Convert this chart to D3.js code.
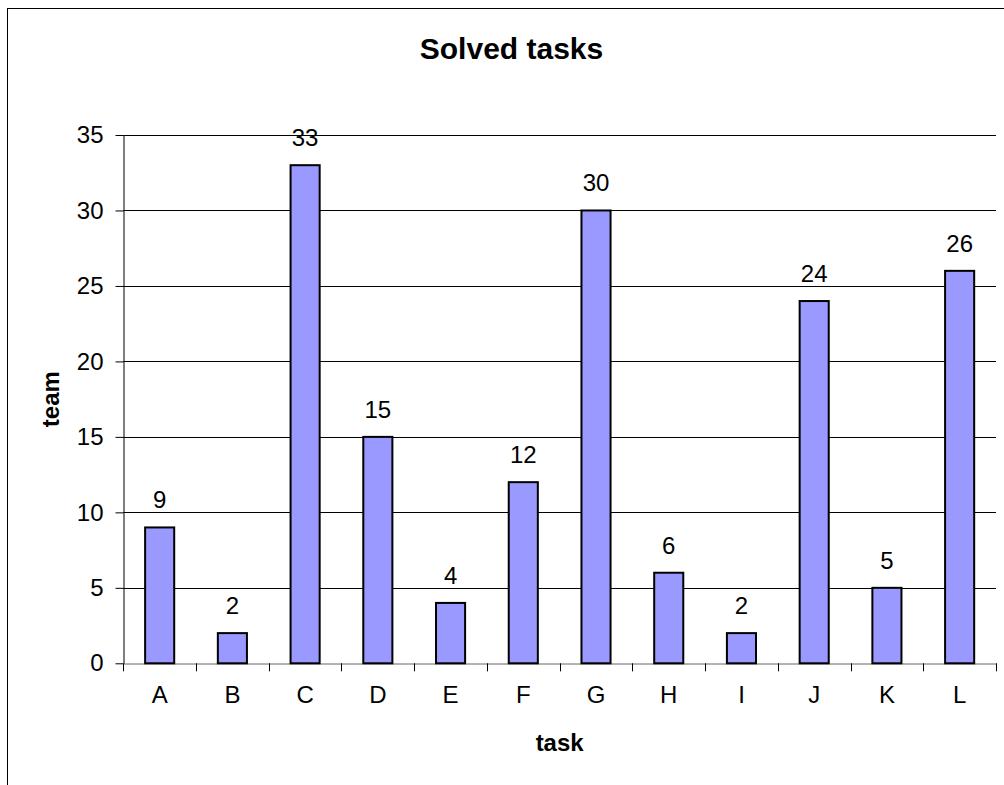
<!DOCTYPE html>
<html>
<head>
<meta charset="utf-8">
<script src="https://cdn.jsdelivr.net/npm/d3@7"></script>
<style>
    body { margin: 0; background: #fff; }
    svg { display: block; font-family: Arial, "Liberation Sans", sans-serif; }
</style>
</head>
<body>
<div id="chart"></div>
<script>
// Chart data
const tasks = ["A", "B", "C", "D", "E", "F", "G", "H", "I", "J", "K", "L"];
const solved = [9, 2, 33, 15, 4, 12, 30, 6, 2, 24, 5, 26];
const yTicks = [0, 5, 10, 15, 20, 25, 30, 35];

const width = 1004;
const height = 785;
const plot = {left: 123.3, right: 996, top: 135, bottom: 663.3};

const svg = d3.select("#chart").append("svg")
    .attr("width", width)
    .attr("height", height);

// Outer frame (runs off the right and bottom edge)
svg.append("rect")
    .attr("x", 7.5)
    .attr("y", 8.5)
    .attr("width", 1100)
    .attr("height", 900)
    .attr("fill", "none")
    .attr("stroke", "#000")
    .attr("stroke-width", 1);

// Scales
const x = d3.scaleBand()
    .domain(tasks)
    .range([plot.left, plot.right])
    .paddingInner(0)
    .paddingOuter(0);

const y = d3.scaleLinear()
    .domain([0, 35])
    .range([plot.bottom, plot.top]);

const barW = x.bandwidth() / 2.5;

// Gridlines
svg.append("g")
    .selectAll("line")
    .data(yTicks.filter(d => d > 0))
    .join("line")
    .attr("x1", plot.left)
    .attr("x2", plot.right)
    .attr("y1", d => Math.round(y(d)) + 0.5)
    .attr("y2", d => Math.round(y(d)) + 0.5)
    .attr("stroke", "#000")
    .attr("stroke-width", 1);

// Y axis
const yAxis = svg.append("g")
    .attr("transform", `translate(${Math.round(plot.left) + 0.5},0)`)
    .call(d3.axisLeft(y).tickValues(yTicks).tickSize(8).tickPadding(12).tickSizeOuter(0));
yAxis.select(".domain").attr("stroke", "#000");
yAxis.selectAll(".tick line").attr("stroke", "#000");
yAxis.selectAll(".tick text")
    .attr("font-size", 24)
    .attr("font-family", "Arial, 'Liberation Sans', sans-serif")
    .attr("fill", "#000");

// X axis
const xAxis = svg.append("g")
    .attr("transform", `translate(0,${Math.round(plot.bottom) + 0.5})`)
    .call(d3.axisBottom(x).tickSize(0).tickPadding(22));
xAxis.select(".domain").attr("stroke", "#666");
xAxis.selectAll(".tick text")
    .attr("font-size", 24)
    .attr("font-family", "Arial, 'Liberation Sans', sans-serif")
    .attr("fill", "#000");

// Category separator ticks
svg.append("g")
    .selectAll("line")
    .data(tasks.concat(["end"]))
    .join("line")
    .attr("x1", (d, i) => Math.round(i < tasks.length ? x(d) : plot.right) + 0.5)
    .attr("x2", (d, i) => Math.round(i < tasks.length ? x(d) : plot.right) + 0.5)
    .attr("y1", plot.bottom)
    .attr("y2", plot.bottom + 8)
    .attr("stroke", "#000");

// Bars
svg.append("g")
    .selectAll("rect")
    .data(tasks)
    .join("rect")
    .attr("x", (d, i) => x(d) + (x.bandwidth() - barW) / 2)
    .attr("y", (d, i) => y(solved[i]))
    .attr("width", barW)
    .attr("height", (d, i) => y(0) - y(solved[i]))
    .attr("fill", "#9999ff")
    .attr("stroke", "#000")
    .attr("stroke-width", 2);

// Value labels
svg.append("g")
    .selectAll("text")
    .data(tasks)
    .join("text")
    .attr("x", d => x(d) + x.bandwidth() / 2)
    .attr("y", (d, i) => y(solved[i]) - 19)
    .attr("text-anchor", "middle")
    .attr("font-size", 24)
    .attr("fill", "#000")
    .text((d, i) => solved[i]);

// Title
svg.append("text")
    .attr("x", 511.5)
    .attr("y", 59)
    .attr("text-anchor", "middle")
    .attr("font-size", 30)
    .attr("font-weight", "bold")
    .text("Solved tasks");

// Axis titles
svg.append("text")
    .attr("x", (plot.left + plot.right) / 2)
    .attr("y", 751)
    .attr("text-anchor", "middle")
    .attr("font-size", 24)
    .attr("font-weight", "bold")
    .text("task");

svg.append("text")
    .attr("transform", `translate(59,${(plot.top + plot.bottom) / 2}) rotate(-90)`)
    .attr("text-anchor", "middle")
    .attr("font-size", 24)
    .attr("font-weight", "bold")
    .text("team");
</script>
</body>
</html>
